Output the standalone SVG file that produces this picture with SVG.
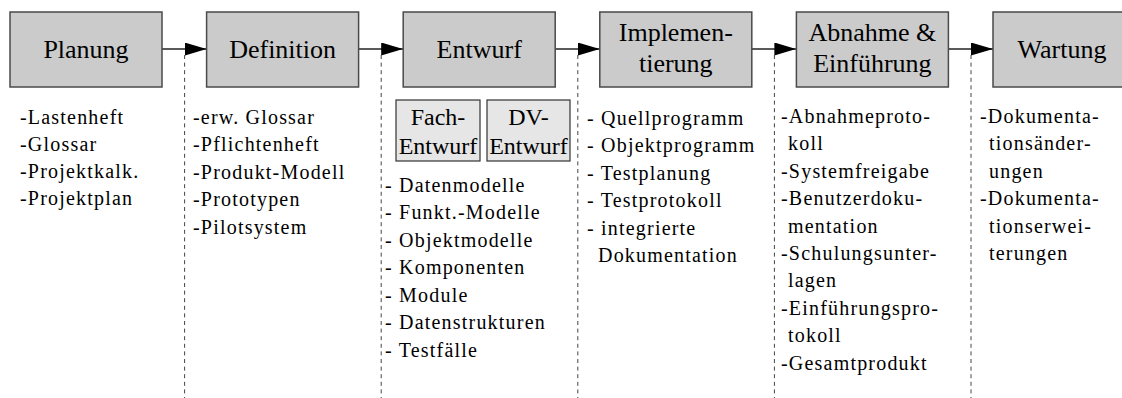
<svg xmlns="http://www.w3.org/2000/svg" width="1122" height="398" viewBox="0 0 1122 398" font-family="Liberation Serif, serif">
  <style>
    .phase { fill: #cbcbcb; stroke: #4a4a4a; stroke-width: 1.5; }
    .sub { fill: #e6e6e6; stroke: #333; stroke-width: 1.2; }
    text { font-family: 'Liberation Serif', serif; fill: #000; }
    .title { font-size: 26px; text-anchor: middle; }
    .subtitle { font-size: 24px; text-anchor: middle; }
    .item { font-size: 20px; letter-spacing: 1.2px; }
    .flow { stroke: #5a5a5a; stroke-width: 1.8; fill: none; }
    .sep { stroke: #444; stroke-width: 1; stroke-dasharray: 4 3.6; fill: none; }
  </style>
  <defs>
    <marker id="head" viewBox="0 0 22 13" refX="22" refY="6.5" markerWidth="22" markerHeight="13" markerUnits="userSpaceOnUse" orient="auto">
      <path d="M0,0 L22,6.5 L0,13 Z" fill="#000"/>
    </marker>
  </defs>

  <rect width="1122" height="398" fill="#fff"/>

  <!-- connectors: phase arrows and dashed column separators -->
  <g id="connectors">
    <line class="flow" x1="162" y1="49" x2="206.6" y2="49" marker-end="url(#head)"/>
    <line class="flow" x1="358.6" y1="49" x2="403.2" y2="49" marker-end="url(#head)"/>
    <line class="flow" x1="555.2" y1="49" x2="599.8" y2="49" marker-end="url(#head)"/>
    <line class="flow" x1="751.8" y1="49" x2="796.4" y2="49" marker-end="url(#head)"/>
    <line class="flow" x1="948.4" y1="49" x2="993" y2="49" marker-end="url(#head)"/>
    <line class="sep" x1="184.6" y1="55" x2="184.6" y2="398"/>
    <line class="sep" x1="381.2" y1="55" x2="381.2" y2="398"/>
    <line class="sep" x1="577.8" y1="55" x2="577.8" y2="398"/>
    <line class="sep" x1="774.4" y1="55" x2="774.4" y2="398"/>
    <line class="sep" x1="971" y1="55" x2="971" y2="398"/>
  </g>

  <g id="planung">
    <rect class="phase" x="10" y="12" width="152" height="75"/>
    <text class="title" x="86" y="58">Planung</text>
    <text class="item" x="20" y="124">-Lastenheft</text>
    <text class="item" x="20" y="151">-Glossar</text>
    <text class="item" x="20" y="178">-Projektkalk.</text>
    <text class="item" x="20" y="205">-Projektplan</text>
  </g>

  <g id="definition">
    <rect class="phase" x="206.6" y="12" width="152" height="75"/>
    <text class="title" x="282.6" y="58">Definition</text>
    <text class="item" x="193" y="124">-erw. Glossar</text>
    <text class="item" x="193" y="151.4">-Pflichtenheft</text>
    <text class="item" x="193" y="178.8">-Produkt-Modell</text>
    <text class="item" x="193" y="206.2">-Prototypen</text>
    <text class="item" x="193" y="233.6">-Pilotsystem</text>
  </g>

  <g id="entwurf">
    <rect class="phase" x="403.2" y="12" width="152" height="75"/>
    <text class="title" x="479.2" y="58">Entwurf</text>
    <g id="fach-entwurf">
      <rect class="sub" x="396" y="100" width="84" height="61"/>
      <text class="subtitle" x="438" y="125">Fach-</text>
      <text class="subtitle" x="438" y="154">Entwurf</text>
    </g>
    <g id="dv-entwurf">
      <rect class="sub" x="487" y="100" width="83" height="61"/>
      <text class="subtitle" x="528.5" y="125">DV-</text>
      <text class="subtitle" x="528.5" y="154">Entwurf</text>
    </g>
    <text class="item" x="385" y="191.5">- Datenmodelle</text>
    <text class="item" x="385" y="219">- Funkt.-Modelle</text>
    <text class="item" x="385" y="246.5">- Objektmodelle</text>
    <text class="item" x="385" y="274">- Komponenten</text>
    <text class="item" x="385" y="301.5">- Module</text>
    <text class="item" x="385" y="329">- Datenstrukturen</text>
    <text class="item" x="385" y="356.5">- Testfälle</text>
  </g>

  <g id="implementierung">
    <rect class="phase" x="599.8" y="12" width="152" height="75"/>
    <text class="title" x="675.8" y="41">Implemen-</text>
    <text class="title" x="675.8" y="72">tierung</text>
    <text class="item" x="587" y="124.5">- Quellprogramm</text>
    <text class="item" x="587" y="152">- Objektprogramm</text>
    <text class="item" x="587" y="179.5">- Testplanung</text>
    <text class="item" x="587" y="207">- Testprotokoll</text>
    <text class="item" x="587" y="234.5">- integrierte</text>
    <text class="item" x="598" y="262">Dokumentation</text>
  </g>

  <g id="abnahme">
    <rect class="phase" x="796.4" y="12" width="152" height="75"/>
    <text class="title" x="872.4" y="41">Abnahme &amp;</text>
    <text class="title" x="872.4" y="72">Einführung</text>
    <text class="item" x="781" y="123">-Abnahmeproto-</text>
    <text class="item" x="788" y="150.4">koll</text>
    <text class="item" x="781" y="177.8">-Systemfreigabe</text>
    <text class="item" x="781" y="205.2">-Benutzerdoku-</text>
    <text class="item" x="788" y="232.6">mentation</text>
    <text class="item" x="781" y="260">-Schulungsunter-</text>
    <text class="item" x="788" y="287.4">lagen</text>
    <text class="item" x="781" y="314.8">-Einführungspro-</text>
    <text class="item" x="788" y="342.2">tokoll</text>
    <text class="item" x="781" y="369.6">-Gesamtprodukt</text>
  </g>

  <g id="wartung">
    <rect class="phase" x="993" y="12" width="152" height="75"/>
    <text class="title" x="1062" y="58">Wartung</text>
    <text class="item" x="980" y="123">-Dokumenta-</text>
    <text class="item" x="989" y="150.4">tionsänder-</text>
    <text class="item" x="989" y="177.8">ungen</text>
    <text class="item" x="980" y="205.2">-Dokumenta-</text>
    <text class="item" x="989" y="232.6">tionserwei-</text>
    <text class="item" x="989" y="260">terungen</text>
  </g>
</svg>
